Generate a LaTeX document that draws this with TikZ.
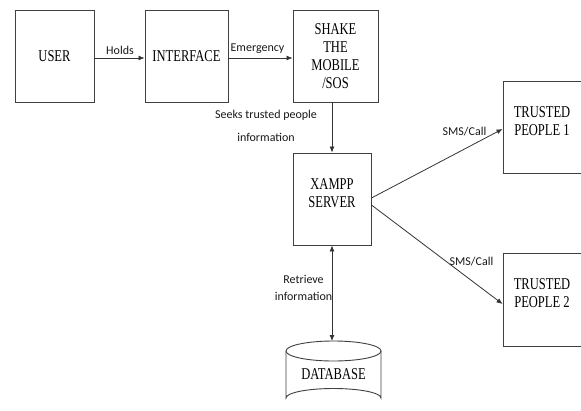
\documentclass[tikz,border=0pt]{standalone}
\usepackage{fontspec}
\setmainfont{Liberation Serif}
\newfontfamily\boxfont[FakeStretch=0.76]{Liberation Serif}
\newfontfamily\lblfont{Carlito}
\usetikzlibrary{arrows.meta}
\begin{document}
\begin{tikzpicture}[x=1pt,y=-1pt,
  box/.style={draw=black!75,line width=0.9pt,minimum height=92pt,inner sep=0pt,
    font=\boxfont\fontsize{16.5}{18}\selectfont,align=center},
  txt/.style={font=\boxfont\fontsize{16.5}{18}\selectfont,align=center,inner sep=0pt},
  lbl/.style={font=\lblfont\fontsize{12}{14}\selectfont,text=black!90,inner sep=0pt,align=center},
  arr/.style={draw=black!80,line width=0.8pt,-{Latex[length=6pt,width=5pt]}},
  darr/.style={draw=black!80,line width=0.8pt,{Latex[length=6pt,width=5pt]}-{Latex[length=6pt,width=5pt]}}]
\useasboundingbox[fill=white] (0,0) rectangle (581,410);
% boxes
\node[box,minimum width=79pt] (user) at (54.5,56) {USER};
\node[box,minimum width=83pt] (iface) at (186.5,56) {INTERFACE};
\node[box,minimum width=85pt] (shake) at (335.5,56) {SHAKE\\THE\\MOBILE\\/SOS};
\node[box,minimum width=78pt] (xampp) at (332,199) {};
\node[txt] (xampptxt) at (332,193) {XAMPP\\SERVER};
\node[box,minimum width=79pt,minimum height=92pt] (tp1) at (542.5,127) {};
\node[txt] (tp1txt) at (542,121) {TRUSTED\\PEOPLE 1};
\node[box,minimum width=79pt,minimum height=93pt] (tp2) at (542.5,299.5) {};
\node[txt] (tp2txt) at (542,293.5) {TRUSTED\\PEOPLE 2};
% database cylinder
\draw[draw=black!75,line width=0.9pt,fill=white] (286,351) -- (286,398)
  arc[start angle=180,end angle=360,x radius=47.5,y radius=9.5] -- (381,351);
\draw[draw=black!75,line width=0.9pt] (333.5,351) ellipse[x radius=47.5,y radius=10];
\coordinate (dbtop) at (333.5,341);
\node[txt] (db) at (333.5,374) {DATABASE};
% connectors
\draw[arr] ([yshift=-2pt]user.east) -- ([yshift=-2pt]iface.west);
\draw[arr] ([yshift=-2pt]iface.east) -- ([yshift=-2pt]shake.west);
\draw[arr] (shake.south -| xampp.north) -- (xampp.north);
\draw[darr] (xampp.south) -- (xampp.south |- dbtop);
\draw[arr] ([yshift=1pt]xampp.east) -- ([yshift=-2pt]tp1.west);
\draw[arr] ([yshift=-6pt]xampp.east) -- ([yshift=-4.5pt]tp2.west);
% labels
\node[lbl] (l1) at (120,50) {Holds};
\node[lbl] (l2) at (257.5,49) {Emergency};
\node[lbl,font=\lblfont\fontsize{12}{23}\selectfont] (l3) at (266,125.5) {Seeks trusted people\\information};
\node[lbl] (l4) at (464.5,132) {SMS/Call};
\node[lbl] (l5) at (471.5,262) {SMS/Call};
\node[lbl,font=\lblfont\fontsize{12}{17}\selectfont] (l6) at (303.5,287.5) {Retrieve\\information};
\end{tikzpicture}
\end{document}
